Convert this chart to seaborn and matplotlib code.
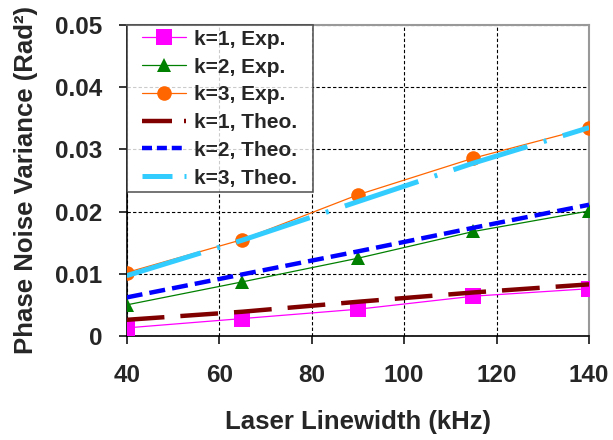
import matplotlib
matplotlib.use("Agg")
import matplotlib.pyplot as plt
from matplotlib.lines import Line2D
from matplotlib.legend_handler import HandlerLine2D
import seaborn as sns

# Laser linewidth (kHz)
linewidth_khz = [40, 65, 90, 115, 140]

# Measured phase-noise variance (rad^2)
k1_exp = [0.0013, 0.0028, 0.0043, 0.0064, 0.0076]
k2_exp = [0.0050, 0.0087, 0.0125, 0.0168, 0.0201]
k3_exp = [0.0102, 0.0155, 0.0227, 0.0286, 0.0335]

# Theoretical phase-noise variance (rad^2)
k1_theo = [0.0026, 0.0039, 0.0055, 0.0070, 0.0083]
k2_theo = [0.0062, 0.0099, 0.0136, 0.0174, 0.0211]
k3_theo = [0.0097, 0.0154, 0.0216, 0.0278, 0.0335]

x_ticks = [40, 60, 80, 100, 120, 140]
y_ticks = [0, 0.01, 0.02, 0.03, 0.04, 0.05]
y_tick_labels = ["0", "0.01", "0.02", "0.03", "0.04", "0.05"]

sns.set_style("white", {"xtick.bottom": True, "ytick.left": True})
plt.rcParams["font.family"] = ["Liberation Sans", "DejaVu Sans"]
plt.rcParams["font.weight"] = "bold"
plt.rcParams["xtick.major.size"] = 6
plt.rcParams["ytick.major.size"] = 6
plt.rcParams["xtick.major.width"] = 1.1
plt.rcParams["ytick.major.width"] = 1.1

fig = plt.figure(figsize=(6.13, 4.40), dpi=100)
ax = fig.add_axes([0.2067, 0.2364, 0.7543, 0.7068])

exp_series = [
    ("k=1, Exp.", k1_exp, "#FF00FF", "s", 11),
    ("k=2, Exp.", k2_exp, "#008000", "^", 10),
    ("k=3, Exp.", k3_exp, "#FF6600", "o", 10.5),
]
for label, ys, color, marker, ms in exp_series:
    sns.lineplot(x=linewidth_khz, y=ys, ax=ax, color=color, lw=0.9,
                 marker=marker, markersize=ms, markeredgewidth=0,
                 label=label, zorder=3)

# (label, values, colour, width, line dash pattern, legend-key dash pattern)
theo_series = [
    ("k=1, Theo.", k1_theo, "#800000", 3.2, (0, (8.5, 3.6)),
     (0, (6.75, 2.7, 0.6, 2.7))),
    ("k=2, Theo.", k2_theo, "#0000FF", 3.2, (0, (3.6, 1.6)),
     (0, (2.25, 1.1))),
    ("k=3, Theo.", k3_theo, "#33CCFF", 3.6, (0, (15.5, 3.4, 0.6, 3.4)),
     (0, (6.0, 2.4, 0.55, 2.4))),
]
legend_keys = {}
for label, ys, color, lw, ls, key_ls in theo_series:
    sns.lineplot(x=linewidth_khz, y=ys, ax=ax, color=color, lw=lw,
                 linestyle=ls, label=label, zorder=4)
    legend_keys[label] = Line2D([], [], color=color, lw=lw, linestyle=key_ls)

ax.set_xlim(40, 140)
ax.set_ylim(0, 0.05)
ax.set_xticks(x_ticks)
ax.set_yticks(y_ticks)
ax.set_yticklabels(y_tick_labels)

ax.grid(True, color="black", linestyle=(0, (3, 2)), linewidth=0.8)
ax.set_axisbelow(True)

for side in ("left", "bottom"):
    ax.spines[side].set_color("black")
    ax.spines[side].set_linewidth(1.2)
for side in ("top", "right"):
    ax.spines[side].set_color("#999999")
    ax.spines[side].set_linewidth(1.5)

ax.tick_params(axis="both", which="major", direction="out", length=6,
               width=1.1, color="black", labelsize=17.5,
               bottom=True, left=True)
ax.tick_params(axis="x", pad=14)
ax.tick_params(axis="y", pad=11.5)
for lab in ax.get_xticklabels() + ax.get_yticklabels():
    lab.set_fontweight("bold")

ax.set_xlabel("Laser Linewidth (kHz)", fontsize=18.5, fontweight="bold",
              labelpad=17)
ax.set_ylabel("Phase Noise Variance (Rad²)", fontsize=18.5,
              fontweight="bold", labelpad=12)

handles, labels = ax.get_legend_handles_labels()
handles = [legend_keys.get(lab, h) for h, lab in zip(handles, labels)]
key_handler = HandlerLine2D(xpad=0.5)
leg = ax.legend(handles, labels, loc="upper left",
                bbox_to_anchor=(0.0, 0.0, 0.4023, 1.0), mode="expand",
                borderaxespad=0.0, frameon=True, fancybox=False,
                prop={"size": 15, "weight": "bold"}, handlelength=2.64,
                handletextpad=0.35, labelspacing=0.42, borderpad=0.23,
                handler_map={Line2D: key_handler})
leg.get_frame().set_edgecolor("#333333")
leg.get_frame().set_linewidth(1.2)
leg.set_zorder(10)

fig.savefig("out.png", dpi=100)
